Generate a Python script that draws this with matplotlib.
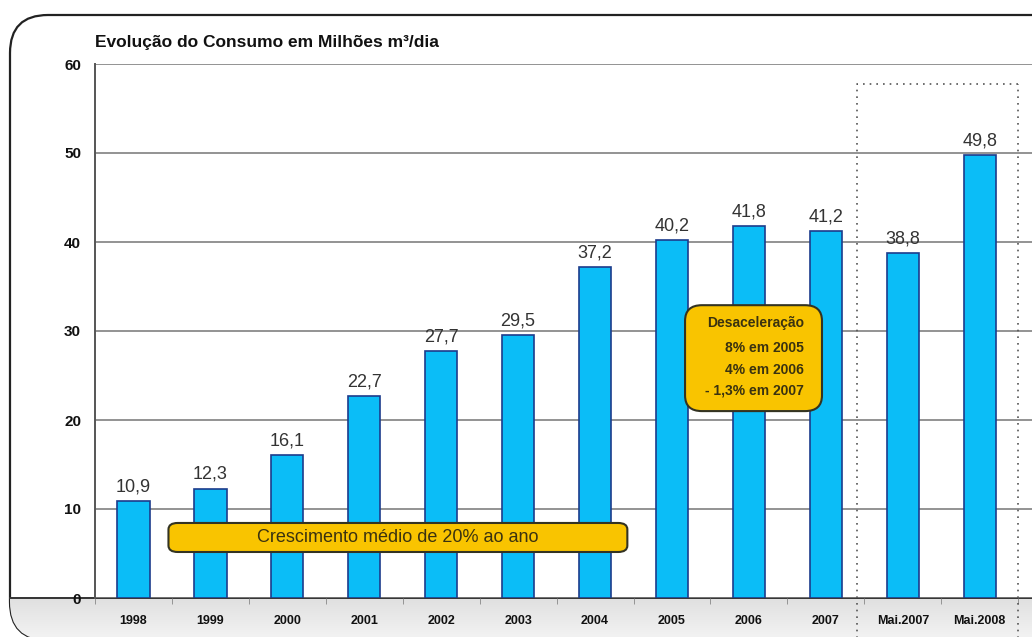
import matplotlib
matplotlib.use("Agg")
import matplotlib.pyplot as plt
import numpy as np
from matplotlib.patches import FancyBboxPatch

plt.rcParams['font.family'] = ['Liberation Sans', 'DejaVu Sans']

categories = ['1998', '1999', '2000', '2001', '2002', '2003', '2004', '2005',
              '2006', '2007', 'Mai.2007', 'Mai.2008']
values = [10.9, 12.3, 16.1, 22.7, 27.7, 29.5, 37.2, 40.2, 41.8, 41.2, 38.8, 49.8]
value_labels = ['10,9', '12,3', '16,1', '22,7', '27,7', '29,5', '37,2', '40,2',
                '41,8', '41,2', '38,8', '49,8']
yticks = [0, 10, 20, 30, 40, 50, 60]
title = 'Evolução do Consumo em Milhões m³/dia'
note_growth = 'Crescimento médio de 20% ao ano'
note_decel = ['Desaceleração', '8% em 2005', '4% em 2006', '- 1,3% em 2007']

W, H = 1032, 637
fig = plt.figure(figsize=(W / 100, H / 100), dpi=100)
fig.patch.set_facecolor('white')

# background / frame axes (pixel coords)
bg = fig.add_axes([0, 0, 1, 1], zorder=0)
bg.set_xlim(0, W)
bg.set_ylim(H, 0)
bg.axis('off')

frame = FancyBboxPatch((10, 15), 1200, 625, boxstyle='round,pad=0,rounding_size=38',
                       facecolor='white', edgecolor='#222222', lw=1.6, zorder=1)
bg.add_patch(frame)
grad = np.linspace(0, 1, 50).reshape(-1, 1)
im = bg.imshow(grad, extent=(0, W, H, 598), cmap=matplotlib.colors.LinearSegmentedColormap.from_list(
    'g', ['#e0e0e0', '#f2f2f2']), aspect='auto', zorder=2)
im.set_clip_path(frame)
bg.plot([10, W], [598, 598], color='#333333', lw=1.4, zorder=3)
bg.set_xlim(0, W)
bg.set_ylim(H, 0)

# main axes
left_px, top_px, bottom_px = 95, 64, 598
ax = fig.add_axes([left_px / W, (H - bottom_px) / H, (W - left_px) / W, (bottom_px - top_px) / H], zorder=2)
ax.set_facecolor('none')
x = np.arange(len(categories))
ax.bar(x, values, width=0.42, color='#0BBDF7', edgecolor='#1c3c8c', lw=1.2, zorder=3)
for xi, v, lab in zip(x, values, value_labels):
    ax.annotate(lab, (xi, v), xytext=(0, 4), textcoords='offset points', ha='center',
                va='bottom', fontsize=13, color='#333333', zorder=5)

ax.set_xlim(-0.49, 11.68)
ax.set_ylim(0, 60)
ax.set_yticks(yticks)
ax.set_yticklabels([str(t) for t in yticks], fontsize=11, fontweight='bold', color='#111111')
ax.tick_params(axis='y', length=0, pad=10)
ax.set_xticks(x)
ax.set_xticklabels(categories, fontsize=9, fontweight='bold', color='#111111')
ax.tick_params(axis='x', length=0, pad=12)
ax.set_xticks(np.arange(-0.5, 12, 1), minor=True)
ax.tick_params(axis='x', which='minor', length=4, direction='out', color='#888888')
ax.grid(axis='y', color='#808080', lw=1.2, zorder=1)
for s in ['top', 'right', 'bottom']:
    ax.spines[s].set_visible(False)
ax.spines['left'].set_color('#555555')
ax.spines['left'].set_linewidth(1.4)

# title
fig.text(95 / W, 1 - 43 / H, title, fontsize=12.5, fontweight='bold', color='#111111',
         ha='left', va='center')

# growth box
gb = FancyBboxPatch((0.455, 5.17), 6.42 - 0.455, 8.43 - 5.17,
                    boxstyle='round,pad=0,rounding_size=0.12', mutation_aspect=6,
                    facecolor='#F9C400', edgecolor='#333322', lw=1.5, zorder=6)
ax.add_patch(gb)
ax.text(3.43, 6.8, note_growth, ha='center', va='center', fontsize=13, color='#3a3210', zorder=7)

# deceleration box
db = FancyBboxPatch((7.17, 21.0), 8.95 - 7.17, 32.9 - 21.0,
                    boxstyle='round,pad=0,rounding_size=0.22', mutation_aspect=8,
                    facecolor='#F9C400', edgecolor='#333322', lw=1.5, zorder=6)
ax.add_patch(db)
for yy, t in zip([30.9, 28.1, 25.6, 23.3], note_decel):
    ax.text(8.72, yy, t, ha='right', va='center', fontsize=10, fontweight='bold',
            color='#3a3210', zorder=7)

# dotted highlight rectangle (pixel coords, overlay)
ov = fig.add_axes([0, 0, 1, 1], zorder=4)
ov.set_xlim(0, W)
ov.set_ylim(H, 0)
ov.axis('off')
ov.plot([857, 1018, 1018], [H + 5, H + 5, 84], ls=(0, (1, 3)), color='#555555', lw=1.2)
ov.plot([857, 857, 1018], [H + 5, 84, 84], ls=(0, (1, 3)), color='#555555', lw=1.2)

fig.savefig('out.png', dpi=100)
